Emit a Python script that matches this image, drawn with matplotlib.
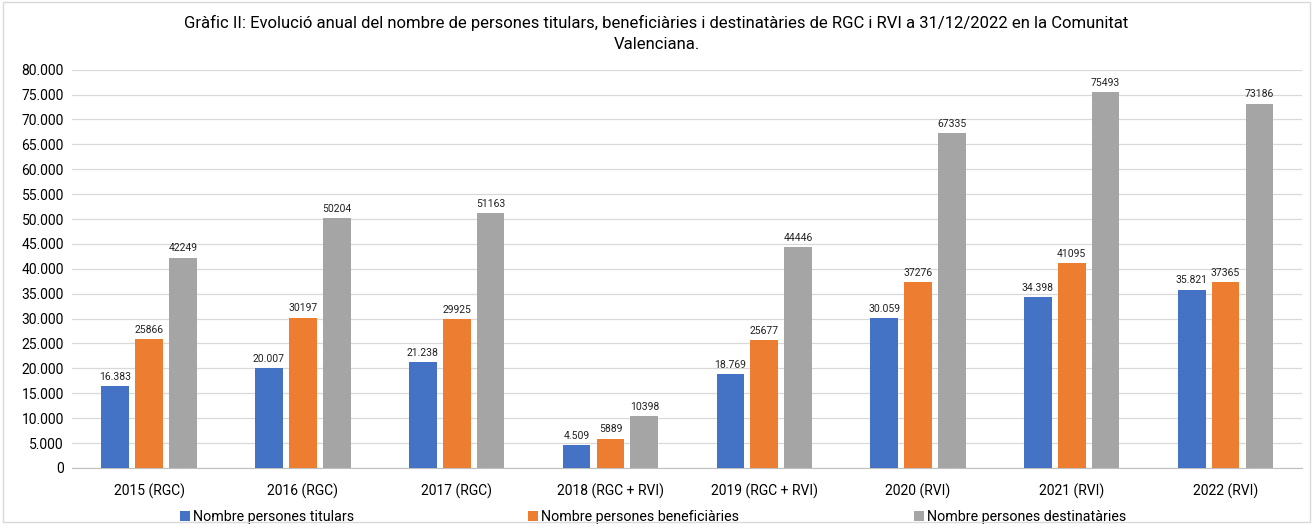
import matplotlib.pyplot as plt
import numpy as np

plt.rcParams['font.family'] = ['Roboto', 'DejaVu Sans']

categories = ['2015 (RGC)', '2016 (RGC)', '2017 (RGC)', '2018 (RGC + RVI)',
              '2019 (RGC + RVI)', '2020 (RVI)', '2021 (RVI)', '2022 (RVI)']
titulars = [16383, 20007, 21238, 4509, 18769, 30059, 34398, 35821]
beneficiaries = [25866, 30197, 29925, 5889, 25677, 37276, 41095, 37365]
destinataries = [42249, 50204, 51163, 10398, 44446, 67335, 75493, 73186]

series = [
    ('Nombre persones titulars', titulars, '#4472C4'),
    ('Nombre persones beneficiàries', beneficiaries, '#ED7D31'),
    ('Nombre persones destinatàries', destinataries, '#A5A5A5'),
]


def dots(v):
    return f'{v:,}'.replace(',', '.')


fig = plt.figure(figsize=(13.13, 5.24), dpi=100)
ax = fig.add_axes([0.055, 0.107, 0.937, 0.76])

x = np.arange(len(categories))
w = 0.18
step = 0.22
for i, (name, vals, col) in enumerate(series):
    bars = ax.bar(x + (i - 1) * step, vals, w, color=col, label=name, zorder=3)
    labels = [dots(v) for v in vals] if i == 0 else [str(v) for v in vals]
    ax.bar_label(bars, labels=labels, padding=3, fontsize=7.5, color='#222222')

ax.set_xlim(-0.5, len(categories) - 0.5)
ax.set_ylim(0, 80000)
ax.set_yticks(range(0, 80001, 5000))
ax.set_yticklabels([dots(v) for v in range(0, 80001, 5000)], fontsize=10)
ax.set_xticks(x)
ax.set_xticklabels(categories, fontsize=10)
ax.tick_params(axis='y', length=0, pad=6)
ax.tick_params(axis='x', length=0, pad=11)
ax.grid(axis='y', color='#D9D9D9', lw=0.9, zorder=0)
for s in ['top', 'right', 'left']:
    ax.spines[s].set_visible(False)
ax.spines['bottom'].set_color('#BFBFBF')

fig.text(0.5, 0.972, 'Gràfic II: Evolució anual del nombre de persones titulars, beneficiàries i destinatàries de RGC i RVI a 31/12/2022 en la Comunitat\nValenciana.',
         ha='center', va='top', fontsize=12, linespacing=1.5)

ax.legend(loc='center', bbox_to_anchor=(0.472, -0.122), ncol=3, frameon=False,
          fontsize=10.3, handlelength=0.7, handleheight=0.7, handletextpad=0.2,
          columnspacing=12.2)

fig.patches.append(plt.Rectangle((0.002, 0.003), 0.996, 0.994, transform=fig.transFigure,
                                 fill=False, edgecolor='#D9D9D9', lw=1))

fig.savefig('out.png', dpi=100)
